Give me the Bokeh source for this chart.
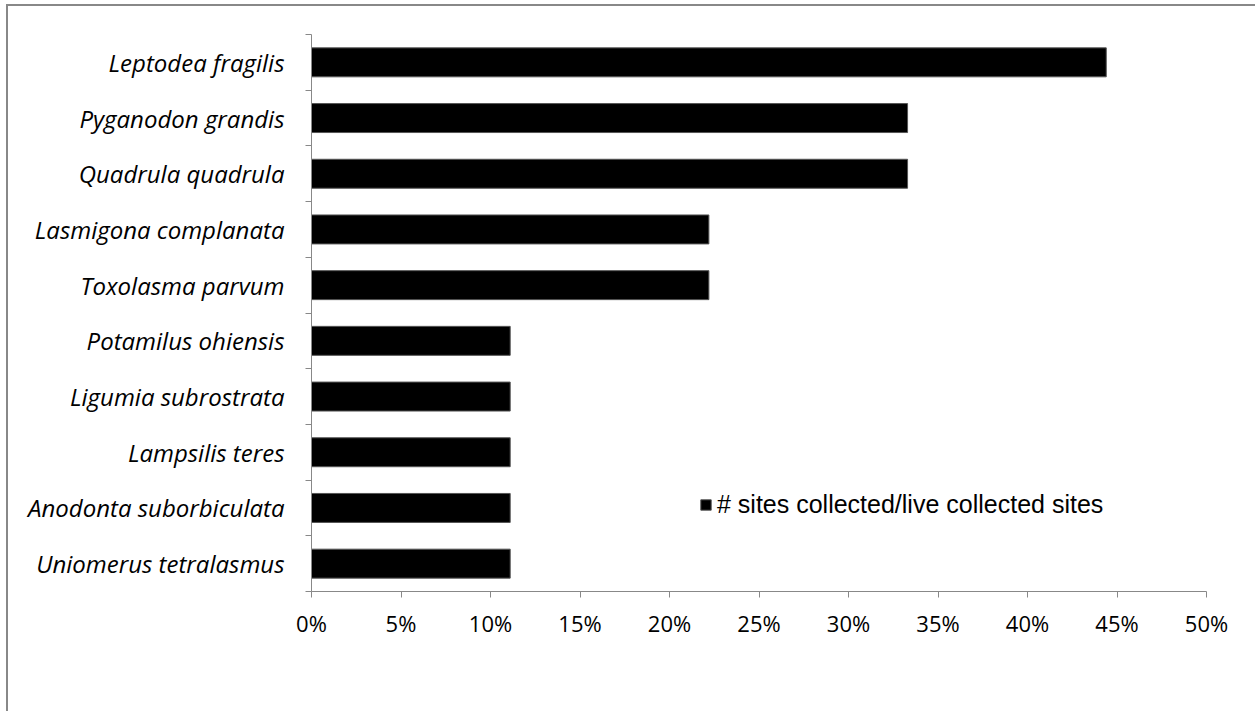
from bokeh.plotting import figure
from bokeh.models import FixedTicker, ColumnDataSource, Legend, LegendItem, NumeralTickFormatter
from bokeh.embed import file_html
from bokeh.resources import INLINE

species = ["Leptodea fragilis", "Pyganodon grandis", "Quadrula quadrula",
           "Lasmigona complanata", "Toxolasma parvum", "Potamilus ohiensis",
           "Ligumia subrostrata", "Lampsilis teres", "Anodonta suborbiculata",
           "Uniomerus tetralasmus"]
pct = [0.444, 0.333, 0.333, 0.222, 0.222, 0.111, 0.111, 0.111, 0.111, 0.111]
x_ticks = [0.0, 0.05, 0.10, 0.15, 0.20, 0.25, 0.30, 0.35, 0.40, 0.45, 0.50]
series_name = "# sites collected/live collected sites"

n = len(species)
pos = [n - i - 0.5 for i in range(n)]
src = ColumnDataSource(dict(y=pos, v=pct, name=species))

p = figure(width=1249, height=707, output_backend="svg", toolbar_location=None,
           x_range=(0, 0.5), y_range=(0, n),
           min_border_left=303, min_border_right=51, min_border_top=28, min_border_bottom=122,
           styles={"border-top": "2px solid #888888", "border-left": "2px solid #888888",
                   "margin-top": "4px", "margin-left": "6px"})
p.outline_line_color = None
p.grid.visible = False

r = p.hbar(y="y", right="v", left=0, height=0.52, source=src,
           fill_color="black", line_color="#555555", line_width=1)

p.xaxis.ticker = FixedTicker(ticks=x_ticks)
p.xaxis.formatter = NumeralTickFormatter(format="0%")
p.xaxis.axis_line_color = "#888888"
p.xaxis.major_tick_line_color = "#888888"
p.xaxis.major_tick_in = 0
p.xaxis.major_tick_out = 6
p.xaxis.minor_tick_line_color = None
p.xaxis.major_label_text_font = "Open Sans"
p.xaxis.major_label_text_font_size = "22px"
p.xaxis.major_label_text_color = "black"
p.xaxis.major_label_standoff = 10

p.yaxis.ticker = FixedTicker(ticks=pos, minor_ticks=list(range(n + 1)))
p.yaxis.major_label_overrides = {pv: s for pv, s in zip(pos, species)}
p.yaxis.axis_line_color = "#888888"
p.yaxis.major_tick_line_color = None
p.yaxis.major_tick_in = 0
p.yaxis.major_tick_out = 0
p.yaxis.minor_tick_line_color = "#888888"
p.yaxis.minor_tick_in = 0
p.yaxis.minor_tick_out = 6
p.yaxis.major_label_text_font = "Open Sans"
p.yaxis.major_label_text_font_style = "italic"
p.yaxis.major_label_text_font_size = "24px"
p.yaxis.major_label_text_color = "black"
p.yaxis.major_label_standoff = 21

legend = Legend(items=[LegendItem(label=series_name, renderers=[r])],
                location=(388, 72), glyph_width=13, glyph_height=13,
                label_text_font="Liberation Sans", label_text_font_size="25px",
                label_text_color="black",
                label_height=30, label_standoff=5, padding=0, margin=0,
                border_line_color=None, background_fill_alpha=0)
p.add_layout(legend, "center")

open("out.html", "w").write(file_html(p, INLINE))
